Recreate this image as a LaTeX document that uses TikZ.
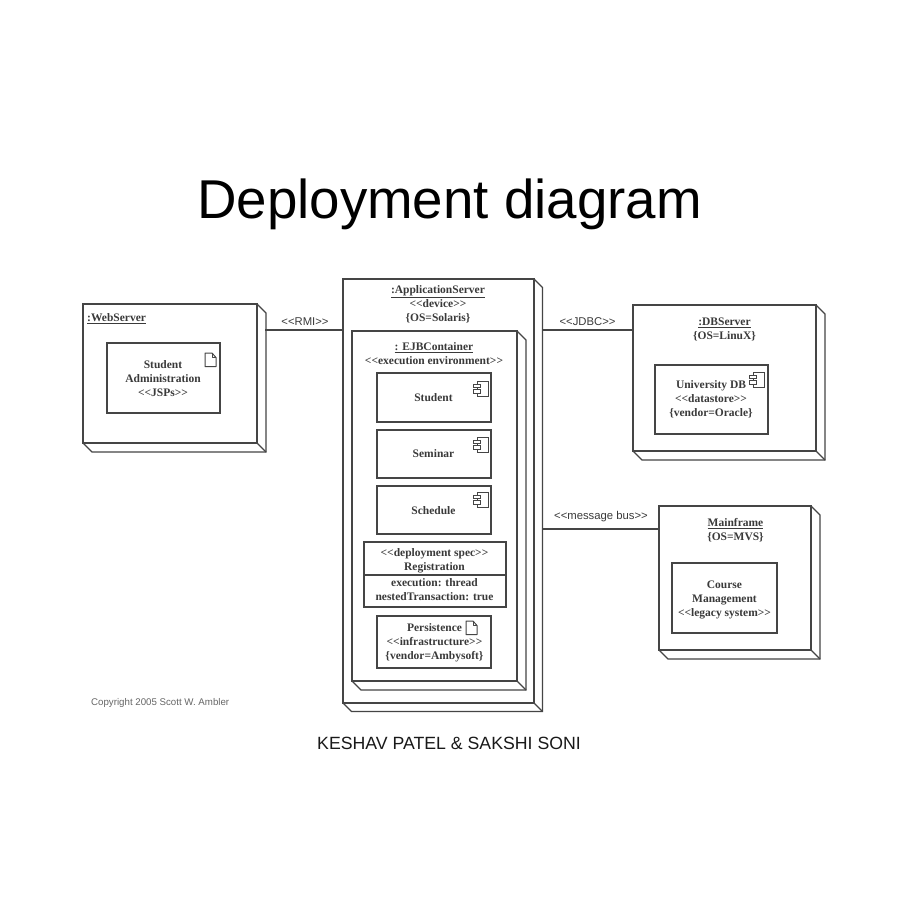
\documentclass[tikz,border=0pt]{standalone}
\usepackage{fontspec}
\newfontfamily\serifplain{Liberation Serif}
\newfontfamily\arialfont{Liberation Sans}
\usetikzlibrary{calc}
\definecolor{ink}{HTML}{454545}
\definecolor{txt}{HTML}{3A3A3A}
\tikzset{
  x=1pt,y=-1pt,
  ln/.style={draw=ink,line width=1.2pt,line join=miter},
  boxn/.style={ln,rectangle,inner sep=0pt,outer sep=0pt,anchor=north west},
  lbl/.style={font=\serifplain\fontsize{11.5}{14}\selectfont\bfseries,text=txt,align=center,inner sep=0pt,anchor=center},
  conlbl/.style={font=\arialfont\fontsize{11.3}{13}\selectfont,text=txt,inner sep=0pt,anchor=center},
  conn/.style={draw=ink,line width=1.2pt},
}
% name, x1, y1, x2, y2
\newcommand{\plainbox}[5]{\node[boxn,minimum width={(#4-#2)*1pt},minimum height={(#5-#3)*1pt}] (#1) at (#2,#3) {};}
% name, x1, y1, x2, y2, depth
\newcommand{\devicebox}[6]{\plainbox{#1}{#2}{#3}{#4}{#5}
  \draw[ln] (#1.north east) -- ++(#6,#6) -- ($(#1.south east)+(#6,#6)$) -- ($(#1.south west)+(#6,#6)$) -- (#1.south west);
  \draw[ln] (#1.south east) -- ++(#6,#6);}
% component icon: right edge x, top y
\newcommand{\compicon}[2]{\begin{scope}[shift={(#1,#2)}]
  \draw[draw=ink,line width=1pt,fill=white] (-11,0) rectangle (0,15);
  \draw[draw=ink,line width=1pt,fill=white] (-15,3) rectangle (-8,6.5);
  \draw[draw=ink,line width=1pt,fill=white] (-15,8.5) rectangle (-8,12);
\end{scope}}
% document icon: left x, top y
\newcommand{\docicon}[2]{\begin{scope}[shift={(#1,#2)}]
  \draw[draw=ink,line width=1pt,line join=round] (0,0) -- (7,0) -- (11,4.5) -- (11,13.5) -- (0,13.5) -- cycle;
  \draw[draw=ink,line width=1pt,line join=round] (7,0) -- (7,4.5) -- (11,4.5);
\end{scope}}
\begin{document}
\begin{tikzpicture}
\useasboundingbox[fill=white] (0,0) rectangle (900,900);

\node[font=\arialfont\fontsize{54.7}{60}\selectfont,text=black,inner sep=0pt,anchor=base] (title) at (449.5,218.5) {Deployment diagram};

% WebServer
\devicebox{web}{83}{304}{257}{443}{9}
\node[lbl,anchor=west] (webname) at (87,318.5) {\underline{:WebServer}};
\plainbox{jsp}{107}{343}{220}{413}
\node[lbl] (jsptext) at (163,378.5) {Student\\Administration\\\textless\textless JSPs\textgreater\textgreater};
\docicon{205}{353}

% ApplicationServer
\devicebox{app}{343}{279}{534}{703}{8.5}
\node[lbl] (apptext) at (438,304) {\underline{:ApplicationServer}\\\textless\textless device\textgreater\textgreater\\\{OS=Solaris\}};

% EJB
\devicebox{ejb}{352}{331}{517}{681}{9}
\node[lbl] (ejbtext) at (434,353.5) {\underline{: EJBContainer}\\\textless\textless execution environment\textgreater\textgreater};

\plainbox{student}{377}{373}{491}{422}
\node[lbl] (studenttext) at (433.5,397.5) {Student};
\compicon{488}{381}
\plainbox{seminar}{377}{430}{491}{478}
\node[lbl] (seminartext) at (433.5,454) {Seminar};
\compicon{488}{437}
\plainbox{schedule}{377}{486}{491}{534}
\node[lbl] (scheduletext) at (433.5,510.5) {Schedule};
\compicon{488}{492}

\plainbox{spec}{364}{542}{506}{607}
\draw[conn] (spec.west |- 0,575) coordinate (specdiv) -- (spec.east |- specdiv);
\node[lbl] (spectext) at (434.5,561) {\textless\textless deployment spec\textgreater\textgreater\\Registration};
\node[lbl] (specattr) at (434.5,590) {execution: thread\\nestedTransaction: true};

\plainbox{pers}{377}{616}{491}{668}
\node[lbl,anchor=center] (perstext) at (434.5,642.5) {Persistence\\\textless\textless infrastructure\textgreater\textgreater\\\{vendor=Ambysoft\}};
\docicon{466}{621}

% DBServer
\devicebox{db}{633}{305}{816}{451}{9}
\node[lbl] (dbtext) at (724.5,329.5) {\underline{:DBServer}\\\{OS=LinuX\}};
\plainbox{udb}{655}{365}{768}{434}
\node[lbl] (udbtext) at (711,399.5) {University DB\\\textless\textless datastore\textgreater\textgreater\\\{vendor=Oracle\}};
\compicon{764}{372}

% Mainframe
\devicebox{main}{659}{506}{811}{650}{9}
\node[lbl] (maintext) at (735.5,530) {\underline{Mainframe}\\\{OS=MVS\}};
\plainbox{legacy}{672}{563}{777}{633}
\node[lbl] (legacytext) at (724.5,599.5) {Course\\Management\\\textless\textless legacy system\textgreater\textgreater};

% Connectors
\coordinate (webout) at ($(web.east |- 0,330)+(8,0)$);
\coordinate (appoutj) at ($(app.east |- 0,330)+(8.5,0)$);
\coordinate (appoutm) at ($(app.east |- 0,529)+(8.5,0)$);
\draw[conn] (webout) -- (app.west |- webout);
\draw[conn] (appoutj) -- (db.west |- appoutj);
\draw[conn] (appoutm) -- (main.west |- appoutm);
\node[conlbl] (rmi) at (305,322) {\textless\textless RMI\textgreater\textgreater};
\node[conlbl] (jdbc) at (587.5,321.5) {\textless\textless JDBC\textgreater\textgreater};
\node[conlbl] (bus) at (601,516.5) {\textless\textless message bus\textgreater\textgreater};

\node[font=\arialfont\fontsize{9.7}{11}\selectfont,text=black!60,inner sep=0pt,anchor=base west] (copy) at (91,705.5) {Copyright 2005 Scott W. Ambler};
\node[font=\arialfont\fontsize{17.7}{20}\selectfont,text=black!90,inner sep=0pt,anchor=base] (authors) at (449,749.5) {KESHAV PATEL \& SAKSHI SONI};
\end{tikzpicture}
\end{document}
